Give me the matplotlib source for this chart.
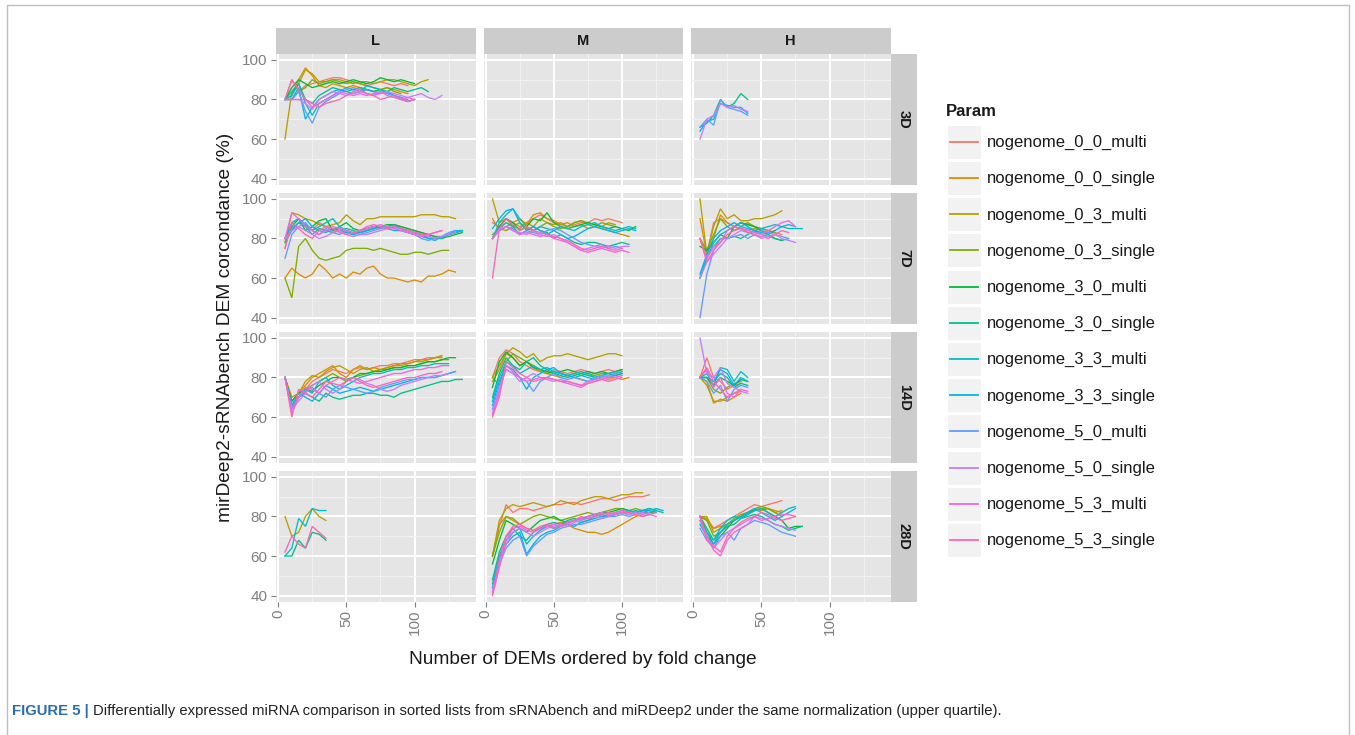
import matplotlib
matplotlib.use('Agg')
import matplotlib.pyplot as plt
from matplotlib.patches import Rectangle

# ---------------- data ----------------
params = ['nogenome_0_0_multi', 'nogenome_0_0_single', 'nogenome_0_3_multi', 'nogenome_0_3_single',
          'nogenome_3_0_multi', 'nogenome_3_0_single', 'nogenome_3_3_multi', 'nogenome_3_3_single',
          'nogenome_5_0_multi', 'nogenome_5_0_single', 'nogenome_5_3_multi', 'nogenome_5_3_single']
col_levels = ['L', 'M', 'H']
row_levels = ['3D', '7D', '14D', '28D']
x_start = 5          # first number of DEMs
x_step = 5           # DEMs between consecutive values
x_ticks = [0, 50, 100]
y_ticks = [40, 60, 80, 100]

# each panel: one list of concordance values per Param (None = absent)
L_3D = [
    [80, 90, 84, 87, 88, 89, 90, 91, 91, 90, 89, 88, 87, 88, 89, 88, 87, 88, 87],
    [80, 82, 90, 96, 92, 87, 86, 88, 87, 86, 87, 86, 85, 84, 85, 86, 85, 84, 83],
    [60, 84, 88, 95, 93, 89, 89, 90, 90, 89, 88, 89, 89, 88, 89, 90, 90, 89, 88, 87, 89, 90],
    [80, 80, 84, 86, 90, 88, 89, 90, 89, 88, 89, 88, 87, 86, 85, 86, 84, 83],
    [80, 86, 90, 88, 86, 87, 88, 89, 88, 89, 90, 89, 88, 89, 91, 90, 89, 90, 89, 88],
    [80, 84, 88, 80, 78, 82, 84, 86, 85, 84, 85, 86, 85, 84, 85, 84, 86, 85, 84, 85, 86, 84],
    [80, 82, 88, 78, 72, 78, 80, 82, 84, 86, 85, 84, 87, 86, 85, 83, 82, 81, 80],
    [80, 80, 86, 70, 76, 80, 82, 84, 85, 84, 83, 84, 85, 84, 83, 84, 82, 80, 79, 80],
    [80, 80, 84, 74, 68, 76, 79, 81, 83, 85, 86, 85, 83, 82, 84, 83, 82, 81, 79, 80],
    [80, 80, 80, 78, 75, 80, 82, 84, 83, 82, 83, 84, 83, 82, 83, 84, 83, 82, 81, 82, 83, 81, 80, 82],
    [80, 80, 80, 80, 76, 78, 80, 82, 84, 83, 82, 83, 82, 83, 84, 82, 81, 80, 81, 80],
    [80, 90, 85, 80, 78, 76, 78, 79, 80, 82, 84, 85, 83, 82, 80, 81, 82, 80, 79, 80],
]
L_7D = [
    [75, 88, 90, 86, 84, 88, 86, 84, 85, 83, 82, 84, 85, 86, 85, 86, 87, 86, 85, 84, 83, 82, 81, 81, 82, 83, 84],
    [60, 65, 62, 60, 62, 67, 64, 60, 62, 60, 63, 62, 65, 66, 62, 60, 60, 59, 58, 59, 58, 61, 61, 62, 64, 63],
    [78, 93, 92, 90, 89, 87, 86, 87, 88, 92, 89, 87, 90, 90, 91, 91, 91, 91, 91, 91, 92, 92, 92, 91, 91, 90],
    [60, 50, 76, 80, 74, 70, 69, 70, 71, 74, 75, 75, 75, 74, 75, 74, 73, 72, 72, 73, 73, 72, 73, 74, 74],
    [80, 86, 90, 84, 86, 89, 90, 84, 86, 88, 85, 84, 85, 86, 86, 87, 87, 86, 85, 84, 83, 82, 81, 80, 81, 82, 83],
    [78, 84, 88, 86, 82, 85, 84, 83, 84, 85, 84, 83, 84, 85, 86, 86, 87, 85, 84, 83, 82, 81, 80, 80, 82, 83, 84],
    [80, 88, 90, 87, 84, 86, 88, 90, 86, 84, 82, 83, 84, 85, 86, 85, 86, 85, 84, 83, 82, 80, 80, 81, 82, 83, 84],
    [80, 85, 88, 90, 86, 84, 83, 85, 84, 83, 82, 83, 84, 85, 86, 85, 84, 84, 83, 82, 81, 80, 79, 81, 82, 84, 84],
    [70, 82, 86, 88, 84, 82, 85, 83, 82, 84, 83, 82, 83, 84, 85, 86, 85, 84, 83, 82, 80, 79, 80, 81, 83, 84],
    [80, 84, 86, 84, 82, 80, 81, 83, 84, 82, 81, 82, 82, 83, 84, 85, 86, 85, 84, 83, 82, 81, 80, 81, 82, 83],
    [80, 93, 90, 86, 84, 82, 84, 86, 85, 84, 83, 84, 85, 86, 87, 86, 85, 84, 83, 82, 81, 82, 83, 84],
    [75, 88, 85, 82, 80, 84, 86, 85, 83, 82, 83, 84, 86, 87, 86, 85, 86, 85, 84, 83, 82, 82, 83, 84],
]
L_14D = [
    [80, 66, 70, 74, 78, 80, 82, 84, 83, 82, 84, 85, 84, 85, 86, 86, 87, 87, 88, 89, 89, 90, 90, 91],
    [80, 70, 72, 76, 80, 82, 84, 86, 82, 80, 84, 86, 84, 85, 84, 85, 86, 87, 87, 88, 88, 89, 90, 90],
    [80, 68, 72, 78, 81, 80, 83, 85, 86, 84, 82, 84, 85, 83, 84, 85, 86, 86, 87, 88, 89, 89, 90, 91],
    [80, 66, 70, 74, 76, 78, 80, 82, 80, 78, 80, 81, 82, 83, 84, 84, 85, 85, 86, 86, 87, 88, 88, 89, 89],
    [80, 68, 72, 74, 73, 76, 78, 80, 80, 79, 80, 82, 82, 83, 83, 84, 85, 85, 86, 86, 87, 88, 88, 89, 90, 90],
    [80, 66, 70, 72, 70, 68, 72, 70, 69, 70, 71, 71, 72, 72, 71, 71, 70, 72, 73, 74, 75, 76, 77, 78, 78, 79, 79],
    [80, 64, 70, 74, 72, 78, 80, 76, 74, 76, 78, 80, 81, 82, 82, 83, 84, 84, 85, 85, 86, 86, 87, 87, 87],
    [80, 66, 72, 70, 68, 72, 76, 74, 72, 73, 74, 75, 74, 73, 74, 75, 76, 77, 78, 79, 80, 80, 80, 81, 82, 83],
    [80, 65, 70, 73, 75, 72, 70, 74, 76, 75, 74, 73, 72, 73, 75, 76, 77, 78, 79, 79, 80, 80, 80, 81, 82, 83],
    [80, 64, 68, 72, 76, 78, 74, 72, 74, 78, 80, 79, 77, 76, 74, 73, 74, 76, 77, 78, 79, 80, 81, 81, 82],
    [80, 62, 70, 75, 74, 72, 76, 78, 80, 79, 78, 77, 78, 79, 80, 81, 82, 82, 83, 84, 84, 85, 85, 86, 86],
    [80, 60, 74, 72, 70, 74, 78, 77, 76, 78, 80, 78, 76, 75, 76, 77, 78, 79, 80, 80, 81, 82, 82, 83],
]
L_28D = [
    None, None,
    [80, 70, 72, 80, 84, 80, 78],
    None, None,
    [60, 60, 68, 64, 72, 71, 68],
    [60, 64, 79, 75, 84, 83, 83],
    None, None, None, None,
    [62, 70, 66, 64, 75, 72, 69],
]
M_3D = [None] * 12
M_7D = [
    [88, 86, 90, 88, 86, 88, 90, 92, 90, 88, 87, 86, 87, 88, 88, 90, 89, 90, 89, 88],
    [90, 84, 86, 88, 90, 87, 92, 93, 90, 89, 87, 88, 86, 87, 85, 86, 85, 84, 83, 82, 81],
    [100, 88, 90, 86, 85, 88, 86, 90, 88, 87, 88, 86, 88, 89, 88, 87, 86, 88, 87],
    [82, 85, 84, 86, 88, 85, 84, 86, 88, 86, 85, 86, 88, 89, 87, 86, 88, 87, 86],
    [80, 86, 90, 88, 84, 86, 90, 89, 93, 88, 86, 85, 86, 87, 88, 87, 86, 85, 86, 85, 84, 86],
    [80, 85, 88, 86, 82, 84, 86, 84, 83, 80, 82, 80, 78, 77, 78, 78, 77, 76, 77, 78, 77],
    [80, 88, 92, 95, 90, 86, 84, 86, 85, 84, 86, 85, 84, 86, 87, 88, 86, 85, 84, 85, 86, 85],
    [85, 90, 94, 95, 88, 84, 86, 84, 82, 84, 82, 80, 81, 83, 85, 86, 85, 84, 83, 84, 85, 84],
    [80, 84, 86, 85, 82, 84, 83, 82, 84, 85, 84, 82, 80, 78, 77, 76, 77, 75, 76, 75],
    [80, 85, 86, 84, 83, 82, 84, 82, 81, 82, 80, 78, 76, 74, 75, 76, 75, 76, 75, 76, 76],
    [80, 84, 86, 84, 82, 83, 82, 81, 82, 80, 79, 78, 76, 74, 73, 74, 75, 74, 73, 74, 73],
    [60, 85, 90, 87, 84, 86, 84, 83, 82, 81, 80, 79, 77, 75, 74, 75, 76, 75, 74, 75],
]
M_14D = [
    [80, 90, 94, 92, 88, 86, 84, 83, 82, 84, 83, 82, 83, 84, 83, 82, 83, 84, 83, 84],
    [78, 84, 92, 90, 86, 88, 85, 83, 82, 81, 80, 81, 80, 79, 78, 79, 80, 79, 80, 79, 80],
    [80, 86, 92, 95, 93, 90, 92, 88, 90, 91, 91, 92, 91, 90, 89, 90, 91, 92, 92, 91],
    [80, 76, 88, 92, 90, 88, 86, 84, 82, 83, 82, 81, 82, 81, 82, 81, 82, 82, 81, 82],
    [75, 88, 93, 90, 86, 88, 85, 84, 83, 82, 83, 84, 83, 82, 83, 82, 83, 82, 83, 84],
    [70, 82, 90, 86, 84, 88, 90, 86, 84, 82, 81, 80, 81, 82, 81, 80, 81, 80, 81, 82],
    [68, 80, 88, 86, 82, 84, 86, 84, 85, 83, 82, 81, 82, 83, 82, 80, 81, 82, 83, 82],
    [66, 78, 86, 84, 80, 74, 80, 82, 84, 85, 82, 81, 80, 81, 80, 79, 80, 81, 82, 83],
    [64, 76, 84, 82, 80, 78, 73, 78, 80, 82, 80, 79, 80, 79, 78, 80, 81, 80, 82, 83],
    [62, 74, 84, 82, 78, 80, 82, 80, 79, 78, 79, 78, 77, 76, 78, 79, 80, 81, 80, 81],
    [61, 72, 86, 83, 80, 78, 79, 80, 80, 79, 78, 77, 76, 75, 77, 78, 79, 80, 80, 81],
    [60, 70, 88, 85, 82, 80, 78, 79, 80, 79, 78, 78, 77, 76, 77, 78, 79, 78, 79, 80],
]
M_28D = [
    [60, 75, 86, 82, 84, 84, 83, 84, 85, 86, 86, 87, 87, 86, 87, 88, 89, 89, 88, 89, 90, 90, 90, 91],
    [60, 76, 80, 78, 76, 74, 73, 74, 75, 76, 77, 76, 74, 73, 72, 72, 71, 72, 74, 76, 78, 80, 81, 82, 82],
    [60, 78, 84, 86, 85, 86, 87, 86, 85, 86, 88, 87, 86, 88, 89, 90, 90, 89, 90, 91, 91, 92, 92],
    [60, 72, 80, 79, 76, 78, 80, 81, 80, 79, 78, 79, 80, 81, 82, 81, 82, 83, 84, 84, 83, 84, 83, 82, 83],
    [56, 68, 78, 76, 74, 72, 75, 78, 79, 80, 78, 77, 78, 79, 80, 81, 82, 82, 83, 84, 83, 82, 83, 84, 83],
    [48, 62, 70, 74, 70, 68, 72, 74, 76, 77, 76, 78, 79, 78, 80, 81, 80, 81, 82, 83, 82, 83, 82, 82, 83, 82],
    [46, 60, 68, 72, 74, 66, 70, 73, 75, 74, 76, 77, 78, 77, 78, 80, 81, 80, 81, 82, 83, 82, 83, 84, 83],
    [44, 58, 66, 70, 72, 61, 66, 70, 72, 73, 75, 76, 75, 77, 78, 79, 80, 80, 81, 82, 81, 82, 83, 83, 84, 83],
    [44, 56, 64, 68, 70, 60, 65, 68, 71, 72, 74, 75, 76, 76, 77, 78, 79, 80, 80, 81, 80, 81, 80, 81, 82],
    [42, 55, 66, 72, 74, 72, 70, 72, 74, 75, 76, 75, 77, 78, 79, 80, 79, 80, 81, 82, 81, 82, 81, 82],
    [40, 54, 68, 74, 75, 73, 72, 74, 75, 76, 75, 76, 78, 79, 80, 81, 82, 81, 82, 83, 82, 81, 82, 81, 80],
    [41, 58, 70, 75, 76, 74, 73, 75, 76, 74, 75, 77, 78, 80, 79, 80, 81, 82, 81, 82, 82, 81, 80, 81],
]
H_3D = [
    None, None, None, None, None,
    [66, 68, 72, 80, 76, 78, 83, 80],
    None,
    [64, 69, 70, 78, 77, 76, 76, 73],
    [66, 70, 67, 80, 76, 75, 74, 72],
    [60, 70, 72, 78, 76, 77, 75, 74],
    None, None,
]
H_7D = [
    [80, 72, 88, 90, 88, 86, 88, 87, 86, 85, 84, 83, 82],
    [90, 72, 80, 92, 88, 86, 85, 84, 85, 84, 83, 84],
    [100, 72, 86, 95, 90, 92, 89, 89, 90, 90, 91, 92, 94],
    [80, 74, 82, 90, 86, 84, 86, 88, 86, 85, 84, 83],
    [76, 74, 78, 82, 80, 86, 88, 87, 86, 84, 82, 80, 79],
    [60, 70, 76, 80, 80, 81, 80, 82, 84, 82, 81, 80, 79, 80],
    [60, 70, 78, 82, 84, 86, 88, 86, 84, 85, 86, 87, 86, 85, 85, 85],
    [62, 72, 80, 84, 86, 88, 86, 85, 84, 83, 82, 84, 86, 87, 86],
    [40, 62, 74, 80, 80, 81, 82, 80, 82, 84, 83, 82, 81, 80],
    [60, 68, 72, 76, 80, 82, 84, 83, 82, 80, 81, 82, 80, 79, 78],
    [80, 70, 76, 78, 84, 86, 85, 84, 83, 82, 84, 86, 88, 89, 86],
    [80, 68, 74, 78, 82, 84, 85, 83, 82, 81, 80, 82, 84, 83],
]
H_14D = [
    [80, 90, 80, 78, 74, 76, 77],
    [80, 78, 67, 69, 68, 70, 72],
    [80, 76, 68, 68, 70, 72, 73],
    [80, 80, 74, 72, 75, 77, 78],
    [80, 80, 76, 80, 78, 76, 79, 78],
    [80, 80, 78, 82, 80, 75, 77, 76],
    [80, 82, 76, 85, 84, 78, 83, 80],
    [80, 80, 78, 84, 82, 76, 80, 78],
    [80, 78, 72, 76, 68, 74, 76, 75],
    [100, 82, 80, 85, 77, 75, 73, 72],
    [80, 84, 75, 80, 72, 70, 74, 73],
    [80, 85, 78, 74, 70, 72, 74],
]
H_28D = [
    [80, 78, 74, 76, 78, 80, 82, 84, 86, 85, 86, 87, 88],
    [80, 79, 74, 75, 76, 78, 80, 82, 84, 83, 84, 83, 82],
    [80, 80, 72, 74, 76, 78, 80, 81, 83, 84, 84, 82, 83],
    [80, 78, 70, 72, 76, 79, 81, 82, 84, 85, 84, 82, 80],
    [80, 72, 66, 70, 74, 78, 80, 82, 83, 84, 82, 80, 78, 74, 75, 75],
    [80, 74, 68, 72, 75, 76, 79, 80, 81, 80, 78, 76, 75, 73, 74, 75],
    [78, 72, 68, 74, 78, 80, 79, 81, 83, 84, 82, 80, 82, 84, 85],
    [76, 70, 66, 72, 76, 78, 80, 82, 84, 82, 80, 78, 80, 82, 84],
    [74, 68, 64, 70, 72, 68, 74, 76, 78, 77, 76, 74, 72, 71, 70],
    [78, 70, 64, 68, 72, 74, 76, 78, 80, 79, 78, 76, 75, 74, 73],
    [80, 70, 63, 60, 68, 72, 74, 76, 80, 78, 79, 80, 81, 81, 80],
    [80, 68, 65, 62, 70, 74, 77, 79, 80, 82, 81, 79, 78, 79, 80],
]

panel_data = {
    ('3D', 'L'): L_3D, ('3D', 'M'): M_3D, ('3D', 'H'): H_3D,
    ('7D', 'L'): L_7D, ('7D', 'M'): M_7D, ('7D', 'H'): H_7D,
    ('14D', 'L'): L_14D, ('14D', 'M'): M_14D, ('14D', 'H'): H_14D,
    ('28D', 'L'): L_28D, ('28D', 'M'): M_28D, ('28D', 'H'): H_28D,
}

# ---------------- style ----------------
colors = ['#F8766D', '#DE8C00', '#B79F00', '#7CAE00', '#00BA38', '#00C08B',
          '#00BFC4', '#00B4F0', '#619CFF', '#C77CFF', '#F564E3', '#FF64B0']
FONT = ['Liberation Sans', 'DejaVu Sans']
plt.rcParams['font.family'] = FONT

W, H = 1355, 735
fig = plt.figure(figsize=(W / 100, H / 100), dpi=100)
fig.patch.set_facecolor('white')


def box(x0, y0, x1, y1):
    return [x0 / W, 1 - y1 / H, (x1 - x0) / W, (y1 - y0) / H]


col_left = [276, 483.5, 691]
col_w = 199.5
row_top = [54, 193, 332, 471]
row_h = 130.5
XLIM = (-1.6, 144.7)
YLIM = (37, 103)

for ri, r in enumerate(row_levels):
    for ci, c in enumerate(col_levels):
        x0 = col_left[ci]
        y0 = row_top[ri]
        ax = fig.add_axes(box(x0, y0, x0 + col_w, y0 + row_h))
        ax.set_facecolor('#E5E5E5')
        for s in ax.spines.values():
            s.set_visible(False)
        ax.set_xlim(*XLIM)
        ax.set_ylim(*YLIM)
        ax.set_xticks(x_ticks)
        ax.set_yticks(y_ticks)
        ax.set_xticks([25, 75, 125], minor=True)
        ax.set_yticks([50, 70, 90], minor=True)
        ax.grid(which='major', color='white', linewidth=1.4)
        ax.grid(which='minor', color='#F2F2F2', linewidth=0.7)
        ax.set_axisbelow(True)
        ax.tick_params(which='minor', length=0)
        ax.tick_params(which='major', length=3.5, width=0.8, color='#7F7F7F',
                       labelcolor='#7F7F7F', labelsize=11, pad=2.5)
        if ci == 0:
            ax.set_yticklabels([str(v) for v in y_ticks])
        else:
            ax.tick_params(axis='y', length=0, labelleft=False)
        if ri == len(row_levels) - 1:
            ax.set_xticklabels([str(v) for v in x_ticks], rotation=90, va='top', ha='center')
        else:
            ax.tick_params(axis='x', length=0, labelbottom=False)
        series = panel_data[(r, c)]
        for pi, vals in enumerate(series):
            if vals is None:
                continue
            xs = [x_start + x_step * k for k in range(len(vals))]
            ax.plot(xs, vals, color=colors[pi], linewidth=0.95, solid_joinstyle='miter')

# top strips
for ci, c in enumerate(col_levels):
    x0 = col_left[ci]
    sax = fig.add_axes(box(x0, 28, x0 + col_w, 53.5))
    sax.set_facecolor('#CCCCCC')
    sax.set_xticks([]); sax.set_yticks([])
    for s in sax.spines.values():
        s.set_visible(False)
    sax.text(0.5, 0.5, c, ha='center', va='center', fontsize=10.5, fontweight='bold',
             color='#1A1A1A', transform=sax.transAxes)

# right strips
for ri, r in enumerate(row_levels):
    y0 = row_top[ri]
    sax = fig.add_axes(box(891, y0, 917, y0 + row_h))
    sax.set_facecolor('#CCCCCC')
    sax.set_xticks([]); sax.set_yticks([])
    for s in sax.spines.values():
        s.set_visible(False)
    sax.text(0.5, 0.5, r, ha='center', va='center', fontsize=10.5, fontweight='bold',
             color='#1A1A1A', rotation=-90, transform=sax.transAxes)

# overlay for titles, legend, caption, border
ov = fig.add_axes([0, 0, 1, 1], facecolor='none')
ov.set_xlim(0, W)
ov.set_ylim(H, 0)
ov.axis('off')

ov.text(226, (row_top[0] + row_top[-1] + row_h) / 2, 'mirDeep2-sRNAbench DEM corcondance (%)',
        rotation=90, ha='center', va='center', fontsize=13.8, color='#1A1A1A')
ov.text((col_left[0] + col_left[-1] + col_w) / 2, 660, 'Number of DEMs ordered by fold change',
        ha='center', va='center', fontsize=13.8, color='#1A1A1A')

# legend
ov.text(946, 111, 'Param', ha='left', va='center', fontsize=12, fontweight='bold', color='#1A1A1A')
for pi, p in enumerate(params):
    yc = 141.7 + 36.2 * pi
    ov.add_patch(Rectangle((946.5, yc - 17), 34.5, 34, facecolor='#F2F2F2', edgecolor='white',
                           linewidth=0.8))
    ov.plot([950, 977.5], [yc, yc], color=colors[pi], linewidth=1.3)
    ov.text(987, yc + 1, p, ha='left', va='center', fontsize=12, color='#1A1A1A')

# figure border
ov.plot([7, 7, 1349, 1349], [735, 5, 5, 735], color='#BFBFBF', linewidth=1.0)

# caption
fig.canvas.draw()
rend = fig.canvas.get_renderer()
t1 = ov.text(12, 711, 'FIGURE 5 |', ha='left', va='center', fontsize=10.75, fontweight='bold',
             color='#2C6DB0')
bb = t1.get_window_extent(renderer=rend)
x_after = bb.x1 + 4
ov.text(x_after, 711, 'Differentially expressed miRNA comparison in sorted lists from sRNAbench and '
        'miRDeep2 under the same normalization (upper quartile).', ha='left', va='center',
        fontsize=10.75, color='#222222')

fig.savefig('out.png', dpi=100, facecolor='white')
